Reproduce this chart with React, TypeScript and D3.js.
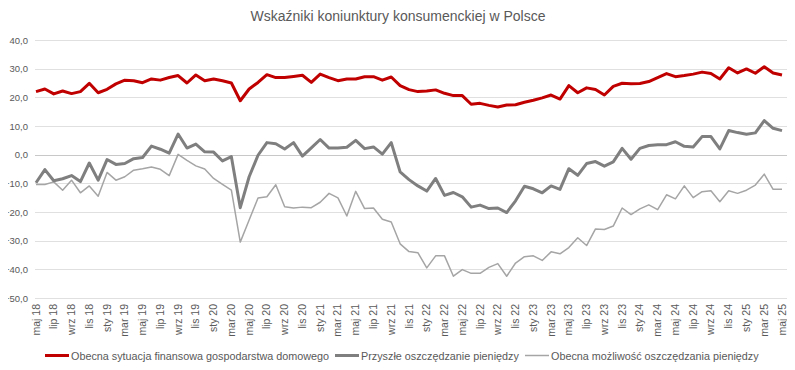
import * as d3 from "d3";
import { useRef, useEffect } from "react";

// months May 2018 .. May 2025
const monthNames = ["sty", "lut", "mar", "kwi", "maj", "cze", "lip", "sie", "wrz", "paź", "lis", "gru"];
const categories: string[] = [];
for (let k = 4; k <= 12 * 7 + 4; k++) {
  categories.push(`${monthNames[k % 12]} ${18 + Math.floor(k / 12)}`);
}

const currentSituation = [
  22.0, 22.9, 21.2, 22.2, 21.3, 22.0, 24.9, 21.6, 22.8, 24.7, 26.0, 25.8,
  25.1, 26.4, 26.0, 26.9, 27.6, 25.0, 27.8, 25.8, 26.4, 25.8, 25.0, 18.8,
  22.9, 25.2, 27.9, 26.9, 26.9, 27.3, 27.7, 25.2, 28.1, 26.9, 25.8, 26.4,
  26.4, 27.2, 27.2, 26.0, 27.1, 24.1, 22.7, 22.0, 22.2, 22.6, 21.4, 20.6,
  20.6, 17.6, 17.9, 17.2, 16.6, 17.3, 17.4, 18.3, 19.0, 19.8, 20.8, 19.4,
  24.1, 21.6, 23.3, 22.7, 20.8, 23.8, 24.9, 24.7, 24.8, 25.5, 26.9, 28.3,
  27.2, 27.6, 28.1, 28.8, 28.3, 26.4, 30.3, 28.5, 29.9, 28.4, 30.7, 28.5,
  27.8,
];

const futureSaving = [
  -9.8, -5.2, -9.1, -8.4, -7.3, -9.4, -2.9, -8.9, -1.7, -3.4, -3.1, -1.4,
  -1.0, 3.0, 1.9, 0.5, 7.2, 2.3, 3.7, 1.0, 0.9, -2.2, -0.7, -18.5,
  -7.7, -0.2, 4.2, 3.8, 2.0, 4.2, -0.5, 2.4, 5.3, 2.3, 2.3, 2.6,
  5.0, 2.1, 2.7, 0.2, 4.2, -6.0, -8.7, -10.9, -12.7, -8.3, -14.2, -13.2,
  -14.7, -18.3, -17.6, -18.8, -18.6, -20.2, -16.1, -11.0, -11.9, -13.3, -10.9, -12.1,
  -4.9, -7.2, -3.1, -2.4, -4.0, -2.5, 2.2, -1.6, 2.2, 3.2, 3.5, 3.5,
  4.5, 2.9, 2.7, 6.3, 6.3, 2.0, 8.4, 7.7, 7.1, 7.6, 11.9, 9.2,
  8.4,
];

const currentSaving = [
  -10.4, -10.4, -9.5, -12.4, -8.9, -13.3, -10.9, -14.5, -6.2, -8.9, -7.7, -5.4,
  -4.9, -4.3, -5.1, -7.3, 0.1, -2.0, -3.9, -5.0, -8.3, -10.4, -12.4, -30.5,
  -22.8, -15.1, -14.7, -10.5, -18.2, -18.6, -18.3, -18.5, -16.6, -13.5, -15.1, -21.4,
  -12.8, -18.8, -18.6, -22.5, -23.5, -31.1, -33.8, -34.2, -39.5, -35.3, -35.3, -42.4,
  -40.1, -41.4, -41.4, -39.3, -38.0, -42.4, -37.8, -35.6, -35.3, -36.9, -33.9, -34.6,
  -32.4, -29.0, -31.7, -25.9, -26.1, -24.9, -18.6, -20.9, -18.9, -17.5, -19.2, -14.0,
  -15.4, -10.9, -15.0, -12.9, -12.6, -16.4, -12.6, -13.5, -12.4, -10.6, -6.8, -12.1,
  -12.1,
];

const yTicks = [40, 30, 20, 10, 0, -10, -20, -30, -40, -50];

const seriesNames = [
  "Obecna sytuacja finansowa gospodarstwa domowego",
  "Przyszłe oszczędzanie pieniędzy",
  "Obecna możliwość oszczędzania pieniędzy",
];
const seriesValues = [currentSituation, futureSaving, currentSaving];
const seriesColors = ["#c00000", "#7f7f7f", "#a5a5a5"];
const seriesWidths = [3, 3, 1.5];

const W = 795;
const H = 370;
const FONT = "'Liberation Sans', Arial, sans-serif";

const Chart = () => {
  const ref = useRef<SVGSVGElement>(null);

  useEffect(() => {
    const svg = d3.select(ref.current);
    svg.selectAll("*").remove();

    const x = d3.scalePoint<string>().domain(categories).range([36, 782]);
    const y = d3.scaleLinear().domain([-50, 40]).range([298, 40]);

    svg.append("text")
      .attr("x", 398)
      .attr("y", 21)
      .attr("text-anchor", "middle")
      .attr("font-family", FONT)
      .attr("font-size", 14)
      .attr("fill", "#595959")
      .text("Wskaźniki koniunktury konsumenckiej w Polsce");

    // gridlines + y labels
    const grid = svg.append("g");
    yTicks.forEach(t => {
      grid.append("line")
        .attr("x1", 35)
        .attr("x2", 789)
        .attr("y1", Math.round(y(t)) + 0.5)
        .attr("y2", Math.round(y(t)) + 0.5)
        .attr("stroke", t === 0 ? "#c8c8c8" : "#e0e0e0")
        .attr("stroke-width", 1);
      grid.append("text")
        .attr("x", 28)
        .attr("y", y(t) + 3.5)
        .attr("text-anchor", "end")
        .attr("font-family", FONT)
        .attr("font-size", 9.5)
        .attr("fill", "#595959")
        .text(d3.format(".1f")(t).replace(".", ","));
    });

    // x labels, every second month
    const xl = svg.append("g");
    categories.forEach((c, i) => {
      if (i % 2 !== 0) return;
      xl.append("text")
        .attr("transform", `translate(${x(c)! + 3.5},304) rotate(-90)`)
        .attr("text-anchor", "end")
        .attr("font-family", FONT)
        .attr("font-size", 10.5)
        .attr("fill", "#595959")
        .text(c);
    });

    // series, drawn back to front
    [2, 1, 0].forEach(s => {
      const line = d3.line<number>()
        .x((d, i) => x(categories[i])!)
        .y(d => y(d));
      svg.append("path")
        .datum(seriesValues[s])
        .attr("fill", "none")
        .attr("stroke", seriesColors[s])
        .attr("stroke-width", seriesWidths[s])
        .attr("stroke-linejoin", "round")
        .attr("d", line);
    });

    // legend
    const legendX = [45, 335, 525];
    const leg = svg.append("g");
    seriesNames.forEach((name, s) => {
      leg.append("line")
        .attr("x1", legendX[s])
        .attr("x2", legendX[s] + 24)
        .attr("y1", 355.5)
        .attr("y2", 355.5)
        .attr("stroke", seriesColors[s])
        .attr("stroke-width", seriesWidths[s]);
      leg.append("text")
        .attr("x", legendX[s] + 26)
        .attr("y", 359.5)
        .attr("font-family", FONT)
        .attr("font-size", 10.8)
        .attr("fill", "#595959")
        .text(name);
    });
  }, []);

  return <svg ref={ref} width={W} height={H} style={{ display: "block" }} />;
};

export default function App() {
  return (
    <div style={{ margin: -8, background: "#fff" }}>
      <Chart />
    </div>
  );
}
